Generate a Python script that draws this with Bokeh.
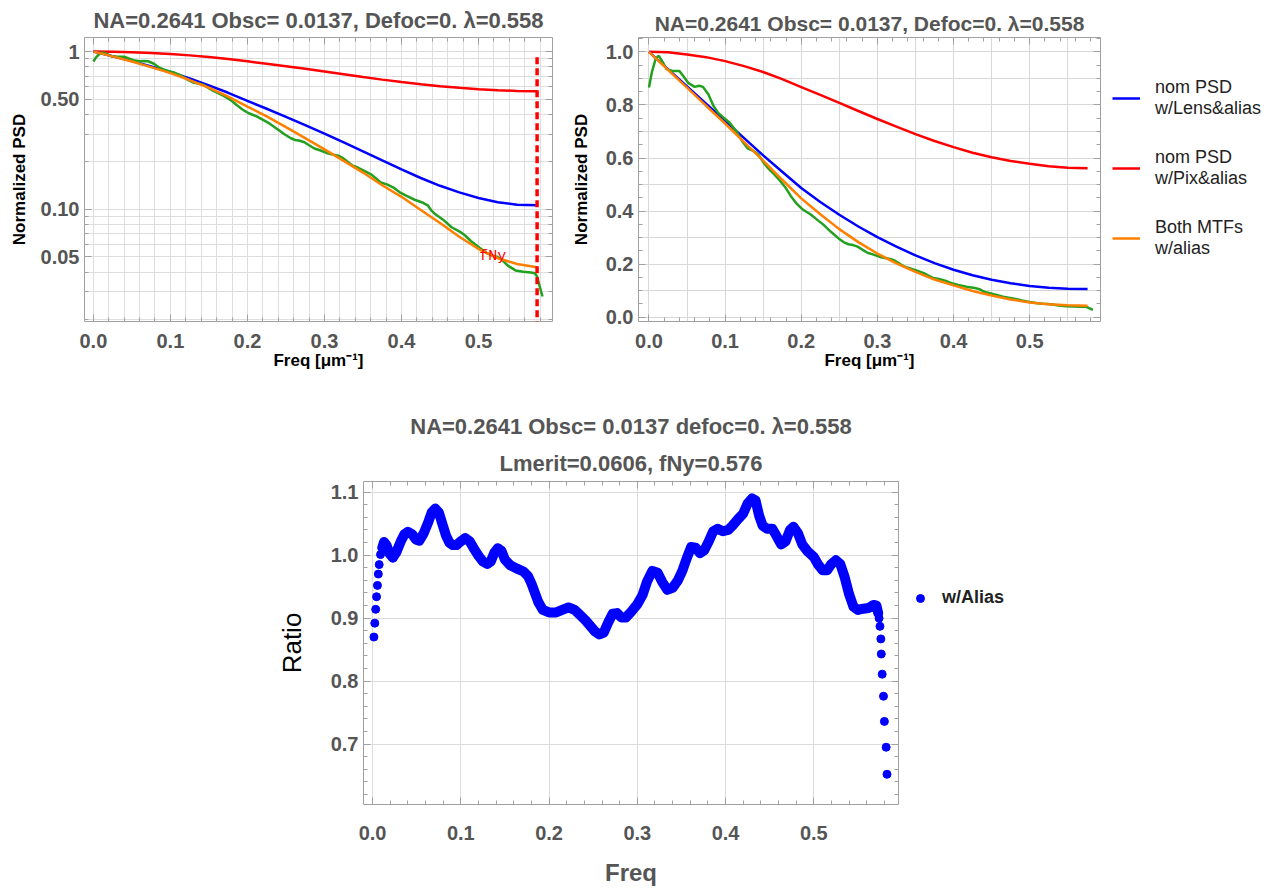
from bokeh.plotting import figure
from bokeh.layouts import column, row
from bokeh.models import (LinearAxis, LogAxis, FixedTicker, CustomJSTickFormatter, Grid,
                          Legend, LegendItem, Title, Spacer)
from bokeh.core.properties import value
from bokeh.embed import file_html
from bokeh.resources import INLINE

# ---------------- data ----------------
fNy = 0.576
f_model = [0, .025, .05, .075, .1, .125, .15, .175, .2, .225, .25, .275, .3, .325,
           .35, .375, .4, .425, .45, .475, .5, .525, .55, .576]
psd_lens = [1.0, 0.935, 0.87, 0.805, 0.74, 0.675, 0.61, 0.548, 0.487, 0.434, 0.386, 0.342,
            0.302, 0.266, 0.233, 0.204, 0.179, 0.158, 0.141, 0.128, 0.118, 0.111, 0.107, 0.106]
psd_pix = [1.0, 0.998, 0.99, 0.98, 0.965, 0.946, 0.924, 0.897, 0.867, 0.838, 0.808, 0.777,
           0.747, 0.718, 0.69, 0.664, 0.641, 0.62, 0.603, 0.589, 0.578, 0.569, 0.563, 0.561]
psd_both = [1.0, 0.932, 0.865, 0.797, 0.73, 0.66, 0.59, 0.518, 0.448, 0.388, 0.332, 0.283,
            0.24, 0.203, 0.171, 0.142, 0.12, 0.099, 0.082, 0.067, 0.056, 0.049, 0.045, 0.043]

f_meas = [0, 0.004, 0.009, 0.013, 0.018, 0.023, 0.031, 0.04, 0.046, 0.052, 0.06, 0.066, 0.071,
          0.078, 0.085, 0.091, 0.098, 0.105, 0.115, 0.122, 0.13, 0.137, 0.144, 0.15, 0.156,
          0.164, 0.171, 0.179, 0.186, 0.194, 0.201, 0.212, 0.222, 0.229, 0.239, 0.249, 0.257,
          0.262, 0.268, 0.274, 0.28, 0.287, 0.295, 0.305, 0.312, 0.318, 0.323, 0.33, 0.336,
          0.342, 0.351, 0.361, 0.367, 0.373, 0.381, 0.389, 0.399, 0.406, 0.417, 0.428, 0.434,
          0.439, 0.444, 0.454, 0.465, 0.476, 0.483, 0.49, 0.5, 0.51, 0.517, 0.524, 0.53, 0.538,
          0.548, 0.558, 0.568, 0.573, 0.576, 0.579, 0.583]
psd_meas = [0.866, 0.925, 0.975, 0.985, 0.962, 0.935, 0.928, 0.928, 0.905, 0.882, 0.868, 0.872,
            0.868, 0.84, 0.795, 0.77, 0.752, 0.736, 0.7, 0.665, 0.635, 0.627, 0.612, 0.585,
            0.563, 0.54, 0.518, 0.49, 0.458, 0.428, 0.408, 0.388, 0.365, 0.349, 0.322, 0.297,
            0.281, 0.275, 0.272, 0.266, 0.255, 0.243, 0.236, 0.226, 0.222, 0.219, 0.213, 0.2,
            0.19, 0.185, 0.176, 0.166, 0.157, 0.148, 0.144, 0.138, 0.127, 0.122, 0.115, 0.11,
            0.106, 0.098, 0.093, 0.086, 0.077, 0.072, 0.068, 0.063, 0.0578, 0.053, 0.051, 0.05,
            0.048, 0.044, 0.041, 0.0402, 0.0398, 0.0393, 0.0375, 0.033, 0.028]

ratio_start_f = [0.0015, 0.0025, 0.0035, 0.0045, 0.0055, 0.0065, 0.0075, 0.009]
ratio_start_v = [0.870, 0.892, 0.914, 0.934, 0.952, 0.970, 0.985, 1.001]
ratio_f = [0.011, 0.013, 0.016, 0.019, 0.023, 0.027, 0.032, 0.036, 0.04, 0.045, 0.049, 0.053,
           0.058, 0.063, 0.067, 0.071, 0.075, 0.079, 0.083, 0.087, 0.091, 0.095, 0.1, 0.105,
           0.11, 0.115, 0.12, 0.125, 0.13, 0.134, 0.138, 0.142, 0.146, 0.15, 0.156, 0.163,
           0.171, 0.176, 0.18, 0.184, 0.188, 0.193, 0.2, 0.208, 0.215, 0.222, 0.229, 0.235,
           0.241, 0.247, 0.252, 0.257, 0.262, 0.267, 0.272, 0.277, 0.282, 0.287, 0.293, 0.3,
           0.306, 0.311, 0.317, 0.323, 0.328, 0.334, 0.34, 0.346, 0.351, 0.356, 0.361, 0.366,
           0.371, 0.376, 0.381, 0.386, 0.391, 0.397, 0.403, 0.408, 0.414, 0.42, 0.425, 0.43,
           0.434, 0.438, 0.442, 0.447, 0.453, 0.458, 0.463, 0.468, 0.473, 0.477, 0.482, 0.487,
           0.493, 0.5, 0.505, 0.51, 0.515, 0.52, 0.525, 0.53, 0.535, 0.54, 0.545, 0.55, 0.556,
           0.562, 0.568, 0.571, 0.573]
ratio_v = [1.012, 1.021, 1.015, 1.003, 0.996, 1.005, 1.022, 1.033, 1.037, 1.033, 1.025, 1.023,
           1.035, 1.052, 1.068, 1.074, 1.068, 1.05, 1.032, 1.02, 1.016, 1.016, 1.022, 1.027,
           1.022, 1.01, 0.999, 0.99, 0.986, 0.99, 1.004, 1.011, 1.007, 0.993, 0.984, 0.979,
           0.974, 0.967, 0.955, 0.94, 0.925, 0.913, 0.909, 0.909, 0.913, 0.917, 0.913, 0.905,
           0.897, 0.887, 0.879, 0.874, 0.877, 0.893, 0.907, 0.908, 0.901, 0.901, 0.91, 0.922,
           0.937, 0.958, 0.975, 0.972, 0.958, 0.945, 0.948, 0.96, 0.975, 0.995, 1.013, 1.012,
           1.003, 1.008, 1.022, 1.038, 1.042, 1.038, 1.04, 1.047, 1.057, 1.066, 1.082, 1.09,
           1.087, 1.063, 1.047, 1.042, 1.042, 1.03, 1.017, 1.022, 1.04, 1.045, 1.035, 1.017,
           1.006, 0.997, 0.985, 0.976, 0.976, 0.986, 0.992, 0.986, 0.965, 0.938, 0.918, 0.913,
           0.915, 0.916, 0.921, 0.92, 0.908]
ratio_end_f = [0.574, 0.575, 0.576, 0.5765, 0.5775, 0.579, 0.580, 0.582, 0.583]
ratio_end_v = [0.900, 0.887, 0.867, 0.843, 0.811, 0.776, 0.736, 0.695, 0.652]

x_major = [0.0, 0.1, 0.2, 0.3, 0.4, 0.5]
x_minor = [round(0.02 * i, 2) for i in range(30)]
logy_major = [0.05, 0.1, 0.5, 1.0]
logy_minor = [0.02, 0.03, 0.04, 0.05, 0.06, 0.07, 0.08, 0.09, 0.1, 0.2, 0.3, 0.4, 0.5,
              0.6, 0.7, 0.8, 0.9, 1.0]
lin_y_major = [0.0, 0.2, 0.4, 0.6, 0.8, 1.0]
lin_y_minor = [round(0.05 * i, 2) for i in range(22)]
lin_xgrid = [round(0.05 * i, 2) for i in range(12)]
lin_ygrid = [round(0.1 * i, 1) for i in range(11)]
r_y_major = [0.7, 0.8, 0.9, 1.0, 1.1]
r_y_minor = [round(0.6 + 0.02 * i, 2) for i in range(27)]

title_top = "NA=0.2641 Obsc= 0.0137, Defoc=0. \u03bb=0.558"
title_b1 = "NA=0.2641 Obsc= 0.0137 defoc=0. \u03bb=0.558"
title_b2 = "Lmerit=0.0606, fNy=0.576"
legend_top = ["nom PSD\nw/Lens&alias", "nom PSD\nw/Pix&alias", "Both MTFs\nw/alias"]
legend_bottom = "w/Alias"

# ---------------- styling ----------------
FONT = "Liberation Sans"
GRAYTXT = "#555555"
FRAMEC = "#a0a0a0"
BLUE, RED, ORANGE, GREEN = "#0000ff", "#ff0000", "#ff7f00", "#22a01e"

TICKS = dict(axis_line_color=None, major_tick_in=7, major_tick_out=0,
             minor_tick_in=4, minor_tick_out=0,
             major_tick_line_color=FRAMEC, minor_tick_line_color=FRAMEC)
LABELS = dict(major_label_text_font=FONT, major_label_text_font_size="20px",
              major_label_text_font_style="bold", major_label_text_color=GRAYTXT)


def hidden(AxisCls, ticker):
    return AxisCls(ticker=ticker, formatter=CustomJSTickFormatter(code="return '';"),
                   major_label_text_font_size="0px", major_label_standoff=0, **TICKS)


def frame_axes(p, xt, yt, yfmt, AxisY, xlab, ylab, xs, ys, xlab_kw, ylab_kw):
    fmt1 = CustomJSTickFormatter(code="return tick.toFixed(1);")
    p.add_layout(LinearAxis(ticker=xt, formatter=fmt1, axis_label=xlab,
                            major_label_standoff=xs, **TICKS, **LABELS, **xlab_kw), "below")
    p.add_layout(AxisY(ticker=yt, formatter=yfmt, axis_label=ylab,
                       major_label_standoff=ys, **TICKS, **LABELS, **ylab_kw), "left")
    p.add_layout(hidden(LinearAxis, xt), "above")
    p.add_layout(hidden(AxisY, yt), "right")
    p.outline_line_color = FRAMEC
    p.outline_line_width = 1


def base_fig(**kw):
    p = figure(output_backend="svg", toolbar_location=None, x_axis_location=None,
               y_axis_location=None, **kw)
    p.center = []
    p.background_fill_color = "white"
    p.border_fill_color = "white"
    return p


def legend_fig(width, height):
    # a bare canvas that only carries a legend; its ranges keep the series out of view
    p = base_fig(width=width, height=height, x_range=(10, 11), y_range=(10, 11),
                 min_border_left=0, min_border_right=0, min_border_top=0,
                 min_border_bottom=0, title=None)
    p.outline_line_color = None
    return p


AXLAB17 = dict(axis_label_text_font=FONT, axis_label_text_font_size="17px",
               axis_label_text_font_style="bold", axis_label_text_color="black")

# ---------------- top-left: log plot ----------------
p1 = base_fig(width=560, height=390, x_range=(-0.0115, 0.596), y_range=(0.01945, 1.228),
              y_axis_type="log", min_border_left=84, min_border_right=8,
              min_border_top=34, min_border_bottom=68, title=title_top)
p1.title.update(text_font=FONT, text_font_size="22px", text_font_style="bold",
                text_color=GRAYTXT, align="center", standoff=9)
xt1 = FixedTicker(ticks=x_major, minor_ticks=x_minor)
yt1 = FixedTicker(ticks=logy_major, minor_ticks=logy_minor)
frame_axes(p1, xt1, yt1,
           CustomJSTickFormatter(code="return tick >= 1 ? '1' : tick.toFixed(2);"), LogAxis,
           "Freq [\u03bcm\u207b\u00b9]", "Normalized PSD", 12, 5,
           dict(AXLAB17, axis_label_standoff=0), dict(AXLAB17, axis_label_standoff=9))
p1.add_layout(Grid(dimension=0, ticker=FixedTicker(ticks=x_minor), grid_line_color="#dedede"))
p1.add_layout(Grid(dimension=1, ticker=FixedTicker(ticks=logy_minor), grid_line_color="#dedede"))

p1.line(f_model, psd_pix, line_color=RED, line_width=2.5)
p1.line(f_model, psd_lens, line_color=BLUE, line_width=2.5)
p1.line(f_meas, psd_meas, line_color=GREEN, line_width=2.5)
p1.line(f_model, psd_both, line_color=ORANGE, line_width=2.5)
p1.segment(x0=[fNy], y0=[0.015], x1=[fNy], y1=[0.93], line_color=RED, line_width=3.5,
           line_dash="7 4")
p1.text(x=[0.9 * fNy], y=[0.05], text=["fNy"], text_font=value("Liberation Mono"),
        text_font_size="15px", text_color=RED, text_align="center", text_baseline="middle")

# ---------------- top-right: linear plot ----------------
p2 = base_fig(width=550, height=390, x_range=(-0.0137, 0.593), y_range=(-0.016, 1.054),
              min_border_left=78, min_border_right=10, min_border_top=37,
              min_border_bottom=69, title=title_top)
p2.title.update(text_font=FONT, text_font_size="21px", text_font_style="bold",
                text_color=GRAYTXT, align="center", standoff=5)
xt2 = FixedTicker(ticks=x_major, minor_ticks=x_minor)
yt2 = FixedTicker(ticks=lin_y_major, minor_ticks=lin_y_minor)
frame_axes(p2, xt2, yt2, CustomJSTickFormatter(code="return tick.toFixed(1);"), LinearAxis,
           "Freq [\u03bcm\u207b\u00b9]", "Normalized PSD", 12, 5,
           dict(AXLAB17, axis_label_standoff=0), dict(AXLAB17, axis_label_standoff=12))
p2.add_layout(Grid(dimension=0, ticker=FixedTicker(ticks=lin_xgrid), grid_line_color="#d8d8d8"))
p2.add_layout(Grid(dimension=1, ticker=FixedTicker(ticks=lin_ygrid), grid_line_color="#d8d8d8"))

p2.line(f_model, psd_pix, line_color=RED, line_width=2.5)
p2.line(f_model, psd_lens, line_color=BLUE, line_width=2.5)
p2.line(f_meas, psd_meas, line_color=GREEN, line_width=2.5)
p2.line(f_model, psd_both, line_color=ORANGE, line_width=2.5)

# legend area to the right of the top-right plot
pl2 = legend_fig(160, 390)
lb = pl2.line(f_model, psd_lens, line_color=BLUE, line_width=2.5)
lr = pl2.line(f_model, psd_pix, line_color=RED, line_width=2.5)
lo = pl2.line(f_model, psd_both, line_color=ORANGE, line_width=2.5)
leg2 = Legend(items=[LegendItem(label=legend_top[0], renderers=[lb]),
                     LegendItem(label=legend_top[1], renderers=[lr]),
                     LegendItem(label=legend_top[2], renderers=[lo])],
              location=(2, 62), padding=5, margin=0, spacing=28, glyph_width=28,
              glyph_height=20, label_standoff=15, label_text_font=FONT,
              label_text_font_size="18px", label_text_color="#222222",
              border_line_color=None, background_fill_alpha=0)
pl2.add_layout(leg2, "center")

# ---------------- bottom: ratio ----------------
p3 = base_fig(width=646, height=498, x_range=(-0.0103, 0.596), y_range=(0.604, 1.117),
              min_border_left=103, min_border_right=8, min_border_top=91,
              min_border_bottom=76, title=None)
xt3 = FixedTicker(ticks=x_major, minor_ticks=x_minor)
yt3 = FixedTicker(ticks=r_y_major, minor_ticks=r_y_minor)
frame_axes(p3, xt3, yt3, CustomJSTickFormatter(code="return tick.toFixed(1);"), LinearAxis,
           "Freq", "Ratio", 21, 5,
           dict(axis_label_text_font=FONT, axis_label_text_font_size="24px",
                axis_label_text_font_style="bold", axis_label_text_color=GRAYTXT,
                axis_label_standoff=16),
           dict(axis_label_text_font=FONT, axis_label_text_font_size="26px",
                axis_label_text_font_style="normal", axis_label_text_color="black",
                axis_label_standoff=21))
p3.add_layout(Title(text=title_b2, align="center", text_font=FONT, text_font_size="22px",
                    text_font_style="bold", text_color=GRAYTXT, standoff=11), "above")
p3.add_layout(Title(text=title_b1, align="center", text_font=FONT, text_font_size="22px",
                    text_font_style="bold", text_color=GRAYTXT, standoff=9), "above")
p3.add_layout(Grid(dimension=0, ticker=FixedTicker(ticks=x_major), grid_line_color="#dcdcdc"))
p3.add_layout(Grid(dimension=1, ticker=FixedTicker(ticks=r_y_major), grid_line_color="#dcdcdc"))

p3.line(ratio_f, ratio_v, line_color=BLUE, line_width=10, line_join="round", line_cap="round")
p3.scatter(ratio_f, ratio_v, size=8, marker="circle", color=BLUE)
p3.scatter(ratio_start_f, ratio_start_v, size=8, marker="circle", color=BLUE)
p3.scatter(ratio_end_f, ratio_end_v, size=8, marker="circle", color=BLUE)

pl3 = legend_fig(364, 498)
ld = pl3.scatter(ratio_f, ratio_v, size=8, marker="circle", color=BLUE)
leg3 = Legend(items=[LegendItem(label=legend_bottom, renderers=[ld])],
              location=(4, 196), padding=2, margin=0, glyph_width=20, glyph_height=20,
              label_standoff=12, label_text_font=FONT, label_text_font_size="18px",
              label_text_font_style="bold", label_text_color="#222222",
              border_line_color=None, background_fill_alpha=0)
pl3.add_layout(leg3, "center")

layout = column(row(p1, p2, pl2), row(Spacer(width=260, height=498), p3, pl3))

open("out.html", "w").write(file_html(layout, INLINE))
